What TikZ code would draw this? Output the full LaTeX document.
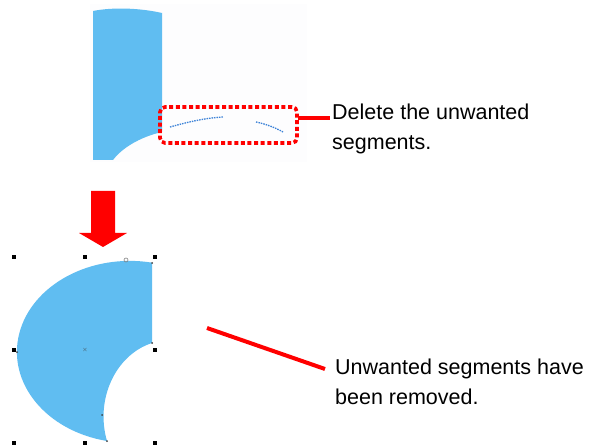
\documentclass[tikz,border=0pt]{standalone}
\usepackage{fontspec}
\setmainfont{Liberation Sans}
\begin{document}
\begin{tikzpicture}[x=1pt,y=-1pt,
  shapefill/.style={fill=skyblue,draw=none},
  redline/.style={draw=red,line width=4pt},
  dotbox/.style={draw=red,line width=3.6pt,dash pattern=on 4pt off 2.6pt,rounded corners=5pt},
  ghost/.style={draw=segblue,line width=1.3pt,dash pattern=on 1.5pt off 1pt},
  handle/.style={fill=black,minimum size=3.5pt,inner sep=0pt,outer sep=0pt,draw=none},
  pt/.style={fill=darkgray,circle,minimum size=2pt,inner sep=0pt,draw=none},
  label/.style={anchor=north west,align=left,inner sep=0pt,font=\fontsize{21.5}{29.5}\selectfont}]
\definecolor{skyblue}{RGB}{96,189,241}
\definecolor{segblue}{RGB}{60,130,215}
\definecolor{faint}{RGB}{253,253,254}
\useasboundingbox (0,0) rectangle (613,446);
\fill[white] (0,0) rectangle (613,446);
% faint screenshot background
\fill[faint] (90,4) rectangle (307,162);
% top shape (before)
\fill[skyblue] (93,11) .. controls (113,7) and (140,8) .. (162,13)
  -- (162,132) .. controls (140,137) and (122,148) .. (113,160)
  -- (93,160) -- cycle;
% unwanted segments
\draw[ghost] (170,127) .. controls (188,122) and (205,118) .. (223,117);
\draw[ghost] (256,122) .. controls (266,124) and (276,128) .. (283,132);
% dotted box
\node[dotbox,minimum width=137pt,minimum height=36pt,inner sep=0pt] (box) at (228.5,125) {};
\coordinate (t1) at (330,118);
\draw[redline] (box.east) ++(-1,-7) coordinate (b1) -- (b1 -| t1);
\node[label] (txt1) at (332,104) {Delete the unwanted\\segments.};
% red arrow
\fill[red] (91,191) -- (115,191) -- (115,233) -- (127,233) -- (103,247) -- (79,233) -- (91,233) -- cycle;
% bottom shape (after)
\fill[skyblue] (152,263) -- (152,343)
  .. controls (115,355) and (95,400) .. (107,441)
  arc[start angle=101.7,end angle=281.2,x radius=113,y radius=91] -- cycle;
% handles
\foreach \x/\y [count=\i] in {14/257,85/257,155/257,14/350,155/350,14/443,85/443,155/443}
  \node[handle] (h\i) at (\x,\y) {};
\node[pt] (p1) at (152,263) {};
\node[pt] (p2) at (152,343) {};
\node[pt] (p3) at (102,415) {};
\node[pt] (p4) at (107,441) {};
\node[pt] (p5) at (17,352) {};
\node[circle,draw=gray,line width=0.6pt,minimum size=4pt,inner sep=0pt] (p6) at (126,260) {};
\node[font=\fontsize{6}{6}\selectfont,text=darkgray,inner sep=0pt] (ctr) at (85,350) {$\times$};
% pointer line and caption
\coordinate (l1) at (207,328);
\coordinate (l2) at (325,369);
\draw[redline] (l1) -- (l2);
\node[label] (txt2) at (335,359) {Unwanted segments have\\been removed.};
\end{tikzpicture}
\end{document}
